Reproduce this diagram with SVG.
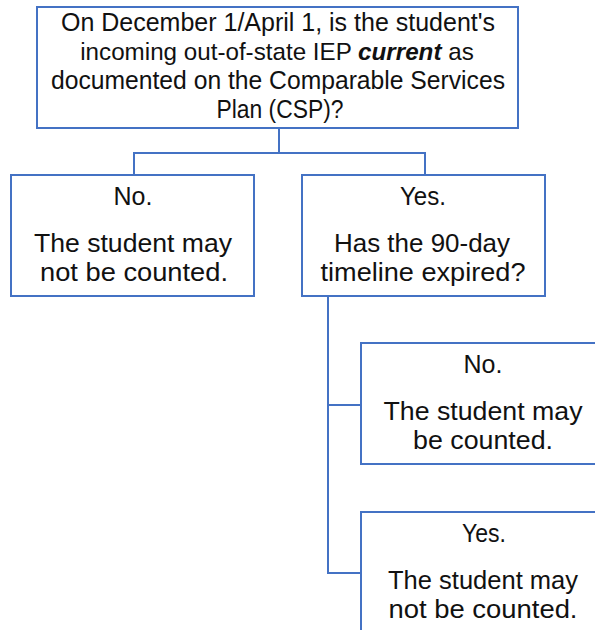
<svg xmlns="http://www.w3.org/2000/svg" width="595" height="630" viewBox="0 0 595 630">
<style>
.box{fill:#ffffff;stroke:#4472C4;stroke-width:2}
.con{fill:none;stroke:#4472C4;stroke-width:2}
text{font-family:"Liberation Sans",Arial,sans-serif;font-size:25px;fill:#111111;text-anchor:middle}
</style>
<rect width="595" height="630" fill="#ffffff"/>
<g id="connectors">
<path class="con" d="M279,128 V153 M134,175 V153 H425 V175"/>
<path class="con" d="M328,296 V573 H361 M328,405 H361"/>
</g>
<g id="q1">
<rect class="box" x="37" y="7" width="481" height="121"/>
<text x="278" y="31" textLength="434" lengthAdjust="spacingAndGlyphs">On December 1/April 1, is the student's</text>
<text x="277" y="60" style="font-size:24.2px">incoming out-of-state IEP <tspan font-weight="bold" font-style="italic">current</tspan> as</text>
<text x="278" y="89" textLength="454" lengthAdjust="spacingAndGlyphs">documented on the Comparable Services</text>
<text x="280" y="118" textLength="127" lengthAdjust="spacingAndGlyphs">Plan (CSP)?</text>
</g>
<g id="no1">
<rect class="box" x="11" y="175" width="243" height="121"/>
<text x="133" y="205">No.</text>
<text x="133" y="252" textLength="198" lengthAdjust="spacingAndGlyphs">The student may</text>
<text x="134" y="281" textLength="188" lengthAdjust="spacingAndGlyphs">not be counted.</text>
</g>
<g id="yes1">
<rect class="box" x="302" y="175" width="243" height="121"/>
<text x="423" y="205" textLength="46" lengthAdjust="spacingAndGlyphs">Yes.</text>
<text x="422" y="252" textLength="176" lengthAdjust="spacingAndGlyphs">Has the 90-day</text>
<text x="423" y="281" textLength="205" lengthAdjust="spacingAndGlyphs">timeline expired?</text>
</g>
<g id="no2">
<rect class="box" x="361" y="343" width="243" height="121"/>
<text x="483" y="373">No.</text>
<text x="483" y="420" textLength="199" lengthAdjust="spacingAndGlyphs">The student may</text>
<text x="483" y="449" textLength="140" lengthAdjust="spacingAndGlyphs">be counted.</text>
</g>
<g id="yes2">
<rect class="box" x="361" y="512" width="243" height="125"/>
<text x="484" y="542" textLength="44" lengthAdjust="spacingAndGlyphs">Yes.</text>
<text x="483" y="589" textLength="190" lengthAdjust="spacingAndGlyphs">The student may</text>
<text x="483" y="618" textLength="189" lengthAdjust="spacingAndGlyphs">not be counted.</text>
</g>
</svg>
